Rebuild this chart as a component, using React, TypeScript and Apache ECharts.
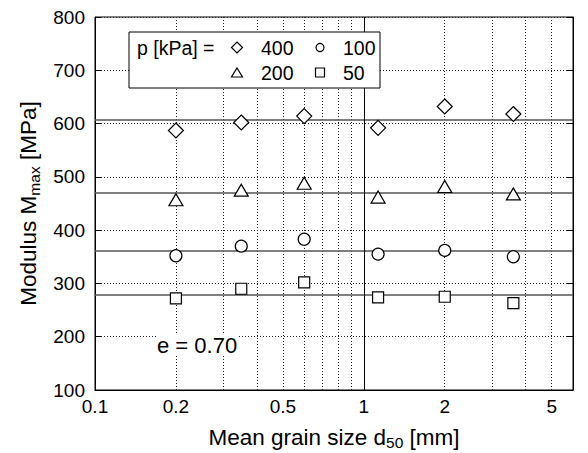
import React, { useEffect, useRef } from "react";
import * as echarts from "echarts";

const grainSizes = [0.2, 0.35, 0.6, 1.13, 2.0, 3.6];
const p400 = [587, 602, 614, 592, 632, 618];
const p200 = [457, 475, 488, 462, 482, 468];
const p100 = [352, 370, 383, 355, 362, 350];
const p50 = [272, 290, 302, 274, 275, 263];
const meanLines = [607, 470, 362, 279];
const xTickLabels = [0.1, 0.2, 0.5, 1, 2, 5];
const xGridValues = [0.1, 0.2, 0.3, 0.4, 0.5, 0.6, 0.7, 0.8, 0.9, 1, 2, 3, 4, 5];
const seriesNames = ["400", "200", "100", "50"];
const seriesSymbols = ["diamond", "triangle", "circle", "rect"];
const symbolSizes: any[] = [15, [14, 12], 12, 11];

const FONT = "'Liberation Sans', Arial, Helvetica, sans-serif";

export default function App() {
  const ref = useRef<HTMLDivElement>(null);
  useEffect(() => {
    if (!ref.current) return;
    const chart = echarts.init(ref.current, undefined, { renderer: "svg" });
    const values = [p400, p200, p100, p50];
    const series: any[] = values.map((vals, i) => ({
      name: seriesNames[i],
      type: "scatter",
      symbol: seriesSymbols[i],
      symbolSize: symbolSizes[i],
      data: grainSizes.map((x, j) => [x, vals[j]]),
      itemStyle: { color: "#fff", borderColor: "#000", borderWidth: 1.2, opacity: 1 },
      z: 5,
      markLine: {
        silent: true,
        symbol: ["none", "none"],
        label: { show: false },
        lineStyle: { type: "solid", color: "#555", width: 1.6 },
        data: [{ yAxis: meanLines[i] }],
      },
    }));
    series.push({
      type: "scatter",
      data: [],
      markLine: {
        silent: true,
        symbol: ["none", "none"],
        label: { show: false },
        lineStyle: { type: "solid", color: "#000", width: 1 },
        data: [{ xAxis: 1 }],
      },
    });
    const sub = { fontSize: 15.5, lineHeight: 15, padding: [11, 0, 0, 0], fontFamily: FONT, color: "#000" };
    const main = { fontSize: 22.5, lineHeight: 26, fontFamily: FONT, color: "#000" };
    const legendText = (text: string, x: number, y: number) => ({
      type: "text",
      x,
      y,
      z: 101,
      style: { text, fontSize: 19.5, fontFamily: FONT, fill: "#000", verticalAlign: "middle", textVerticalAlign: "middle" },
    });
    chart.setOption({
      animation: false,
      backgroundColor: "#fff",
      grid: {
        left: 95,
        top: 17,
        right: 15,
        bottom: 63,
        containLabel: false,
        outerBoundsMode: "none",
        show: true,
        borderColor: "#000",
        borderWidth: 1,
      },
      xAxis: {
        type: "log",
        min: 0.1,
        max: 6,
        logBase: 10,
        name: "{a|Mean grain size d}{s|50}{a| [mm]}",
        nameLocation: "middle",
        nameGap: 34,
        nameTextStyle: { fontSize: 22.5, fontFamily: FONT, color: "#000", rich: { a: main, s: sub } },
        axisLine: { show: true, onZero: false, lineStyle: { color: "#000", width: 1 } },
        axisTick: { show: false, customValues: xGridValues },
        axisLabel: {
          customValues: xTickLabels,
          fontSize: 19,
          fontFamily: FONT,
          color: "#000",
          margin: 7,
          formatter: (v: number) => String(v),
        },
        splitLine: { show: true, lineStyle: { type: [1, 2], color: "#222", width: 1 } },
      },
      yAxis: [
        {
          type: "value",
          min: 100,
          max: 800,
          interval: 100,
          name: "{a|Modulus M}{s|max}{a| [MPa]}",
          nameLocation: "middle",
          nameGap: 48,
          nameTextStyle: { fontSize: 22.5, fontFamily: FONT, color: "#000", rich: { a: main, s: sub } },
          axisLine: { show: true, lineStyle: { color: "#000", width: 1 } },
          axisTick: { show: true, inside: true, length: 6, lineStyle: { color: "#000" } },
          axisLabel: { fontSize: 19, fontFamily: FONT, color: "#000", margin: 10 },
          splitLine: { show: true, lineStyle: { type: [1, 2], color: "#222", width: 1 } },
        },
        {
          type: "value",
          min: 100,
          max: 800,
          interval: 100,
          position: "right",
          axisLine: { show: true, lineStyle: { color: "#000", width: 1 } },
          axisTick: { show: true, inside: true, length: 6, lineStyle: { color: "#000" } },
          axisLabel: { show: false },
          splitLine: { show: false },
        },
      ],
      series,
      graphic: [
        {
          type: "group",
          z: 100,
          children: [
            { type: "rect", shape: { x: 129, y: 32, width: 251, height: 56 }, style: { fill: "#fff", stroke: "#000", lineWidth: 1 }, z: 100 },
            legendText("p [kPa] =", 137, 48),
            { type: "polygon", shape: { points: [[237, 42], [242.5, 47.5], [237, 53], [231.5, 47.5]] }, style: { fill: "#fff", stroke: "#000", lineWidth: 1.2 }, z: 101 },
            legendText("400", 261, 48),
            { type: "circle", shape: { cx: 320, cy: 47.5, r: 4 }, style: { fill: "#fff", stroke: "#000", lineWidth: 1.2 }, z: 101 },
            legendText("100", 343, 48),
            { type: "polygon", shape: { points: [[237, 68], [242.5, 77], [231.5, 77]] }, style: { fill: "#fff", stroke: "#000", lineWidth: 1.2 }, z: 101 },
            legendText("200", 261, 73),
            { type: "rect", shape: { x: 315.5, y: 68, width: 9, height: 9 }, style: { fill: "#fff", stroke: "#000", lineWidth: 1.2 }, z: 101 },
            legendText("50", 343, 73),
          ],
        },
        {
          type: "text",
          x: 157,
          y: 345,
          z: 100,
          style: { text: "e = 0.70", fontSize: 22, fontFamily: FONT, fill: "#000", backgroundColor: "#fff", verticalAlign: "middle", textVerticalAlign: "middle" },
        },
      ],
    });
    return () => chart.dispose();
  }, []);
  return <div ref={ref} style={{ width: 588, height: 453, position: "absolute", left: 0, top: 0 }} />;
}
